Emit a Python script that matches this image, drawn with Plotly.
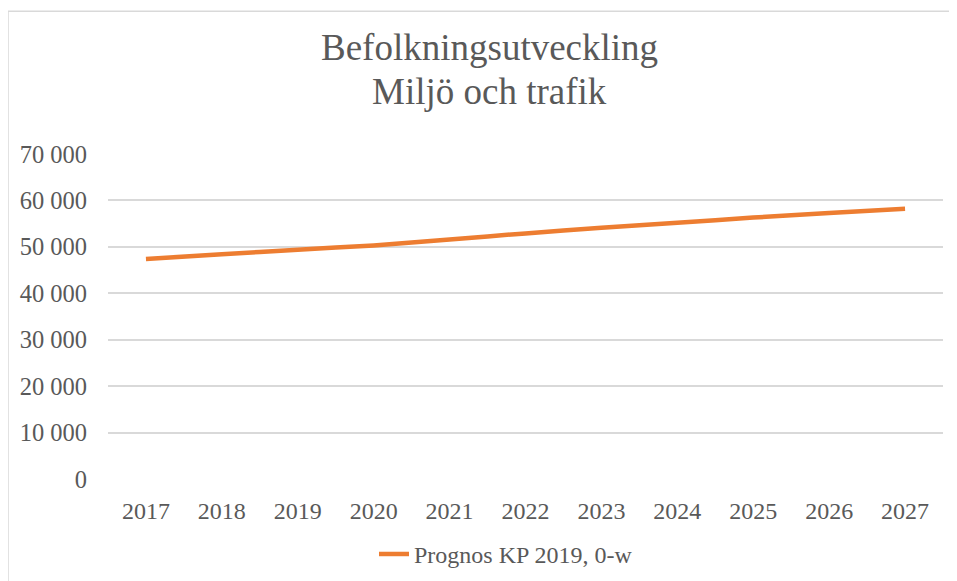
import plotly.graph_objects as go

years = ["2017", "2018", "2019", "2020", "2021", "2022", "2023", "2024", "2025", "2026", "2027"]
prognos = [47400, 48400, 49400, 50300, 51600, 52900, 54100, 55200, 56300, 57300, 58200]
series_name = "Prognos KP 2019, 0-w"
y_ticks = [0, 10000, 20000, 30000, 40000, 50000, 60000, 70000]
title_lines = ["Befolkningsutveckling", "Miljö och trafik"]

FONT = "Liberation Serif, Times New Roman, serif"
GREY = "#595959"

# page offset (default body margin) compensation
D = 8
W, H = 957, 581
# target plot-area edges in screenshot pixels
PL, PR, PT, PB = 108, 943, 154, 479.5
L, T = PL - D, PT - D
R = W - (PR - D)
B = H - (PB - D)
pw = W - L - R
ph = H - T - B


def py(pix):
    return (PB - pix) / ph


def px(pix):
    return (pix - PL) / pw


fig = go.Figure()
fig.add_trace(go.Scatter(
    x=years, y=prognos, name=series_name, mode="lines",
    line=dict(color="#ED7D31", width=4.5, shape="spline", smoothing=0.6),
    showlegend=True,
))

annots = []
for txt, yc in zip(title_lines, [47, 91]):
    annots.append(dict(
        text=txt, xref="paper", yref="paper", x=px(489), y=py(yc),
        xanchor="center", yanchor="middle", showarrow=False,
        font=dict(family=FONT, size=37, color=GREY),
    ))

fig.update_layout(
    width=W, height=H,
    margin=dict(l=L, r=R, t=T, b=B, autoexpand=False),
    paper_bgcolor="white", plot_bgcolor="white",
    separators=", ",
    font=dict(family=FONT, color=GREY, size=24),
    annotations=annots,
    xaxis=dict(
        type="category", range=[-0.5, 10.5], showgrid=False, zeroline=False,
        showline=False, ticks="", tickfont=dict(size=24, color=GREY),
        ticklabelstandoff=15, automargin=False,
    ),
    yaxis=dict(
        range=[0, 70000], tickvals=y_ticks, tickformat=",d",
        showgrid=True, gridcolor="#D9D9D9", gridwidth=1.5, zeroline=False,
        showline=False, ticks="", tickfont=dict(size=24.5, color=GREY),
        ticklabelstandoff=20, automargin=False,
    ),
    legend=dict(
        orientation="h", x=px(506), xanchor="center",
        y=py(555), yanchor="middle",
        font=dict(size=24, color=GREY), bgcolor="rgba(0,0,0,0)",
    ),
    shapes=[dict(
        type="rect", xref="paper", yref="paper",
        x0=px(8), x1=px(W + 20),
        y0=py(H + 20), y1=py(11),
        line=dict(color="#D9D9D9", width=1.5), layer="below",
    )],
)

fig.write_html("out.html")
